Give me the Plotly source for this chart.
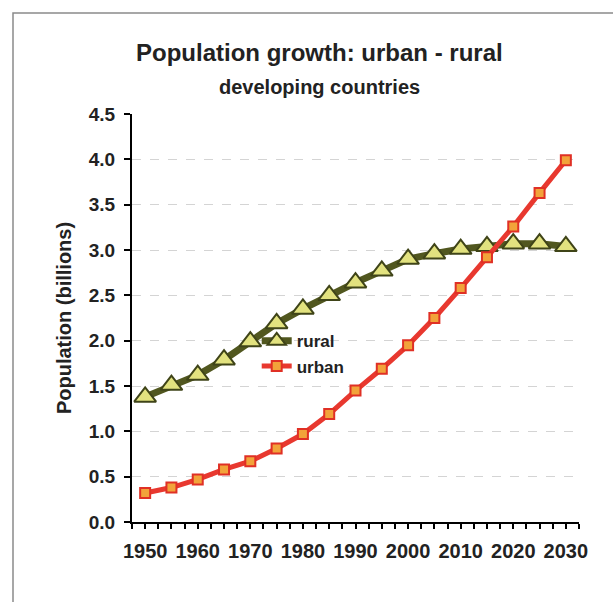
import plotly.graph_objects as go

years = [1950, 1955, 1960, 1965, 1970, 1975, 1980, 1985, 1990, 1995,
         2000, 2005, 2010, 2015, 2020, 2025, 2030]
rural = [1.38, 1.51, 1.62, 1.79, 1.99, 2.19, 2.35, 2.50, 2.64, 2.77,
         2.90, 2.96, 3.01, 3.04, 3.07, 3.07, 3.04]
urban = [0.32, 0.38, 0.47, 0.58, 0.67, 0.81, 0.97, 1.19, 1.45, 1.69,
         1.95, 2.25, 2.58, 2.92, 3.26, 3.63, 3.99]
y_ticks = [0.0, 0.5, 1.0, 1.5, 2.0, 2.5, 3.0, 3.5, 4.0, 4.5]
x_ticks = [1950, 1960, 1970, 1980, 1990, 2000, 2010, 2020, 2030]

FONT = "Liberation Sans, Arial, sans-serif"
TXT = "#222222"

fig = go.Figure()
fig.add_trace(go.Scatter(
    x=years, y=rural, name="rural", mode="lines+markers",
    line=dict(color="#51571f", width=7),
    marker=dict(symbol="triangle-up", size=19, color="#e2e27f",
                line=dict(color="#3f4418", width=2)),
))
fig.add_trace(go.Scatter(
    x=years, y=urban, name="urban", mode="lines+markers",
    line=dict(color="#e8382f", width=5),
    marker=dict(symbol="square", size=10, color="#f2a33a",
                line=dict(color="#e03025", width=2)),
))

fig.update_layout(
    width=613, height=602,
    margin=dict(l=132, r=34, t=114, b=80),
    paper_bgcolor="white", plot_bgcolor="white",
    font=dict(family=FONT, color=TXT),
    showlegend=True,
    legend=dict(x=0.279, y=0.487, xanchor="left", yanchor="top",
                bgcolor="rgba(0,0,0,0)", tracegroupgap=0,
                font=dict(size=17, family=FONT, color=TXT, weight="bold")),
    annotations=[
        dict(text="<b>Population growth: urban - rural</b>", xref="paper", yref="paper",
             x=0.42, y=(522 - 52) / 408, xanchor="center", yanchor="middle",
             showarrow=False, font=dict(size=24, family=FONT, color=TXT)),
        dict(text="<b>developing countries</b>", xref="paper", yref="paper",
             x=0.42, y=(522 - 87) / 408, xanchor="center", yanchor="middle",
             showarrow=False, font=dict(size=20, family=FONT, color=TXT)),
    ],
    shapes=[
        dict(type="rect", xref="paper", yref="paper",
             x0=(13 - 132) / 447, x1=1.3, y0=-0.4, y1=(522 - 13) / 408,
             line=dict(color="#8a8a8a", width=1.5), fillcolor="rgba(0,0,0,0)",
             layer="below"),
    ],
)

fig.update_xaxes(
    range=[1947.5, 2032.5], tickmode="array", tickvals=x_ticks,
    ticktext=[str(v) for v in x_ticks],
    ticks="outside", ticklen=5, tickwidth=1.5, tickcolor="black",
    minor=dict(dtick=2.5, tick0=1947.5, ticks="outside", ticklen=5,
               tickwidth=1.5, tickcolor="black", showgrid=False),
    showline=True, linecolor="black", linewidth=2,
    showgrid=False, zeroline=False, ticklabelstandoff=5,
    tickfont=dict(size=20, family=FONT, color=TXT, weight="bold"),
)
fig.update_yaxes(
    range=[0, 4.5], tickmode="array", tickvals=y_ticks,
    ticktext=[f"{v:.1f}" for v in y_ticks],
    ticks="outside", ticklen=6, tickwidth=1.5, tickcolor="black",
    showline=True, linecolor="black", linewidth=2,
    showgrid=True, gridcolor="#d4d4d4", griddash="dash", gridwidth=1,
    zeroline=False, ticklabelstandoff=5,
    tickfont=dict(size=19, family=FONT, color=TXT, weight="bold"),
    title=dict(text="<b>Population (billions)</b>", standoff=12,
               font=dict(size=20, family=FONT, color=TXT)),
)

fig.write_html("out.html")
